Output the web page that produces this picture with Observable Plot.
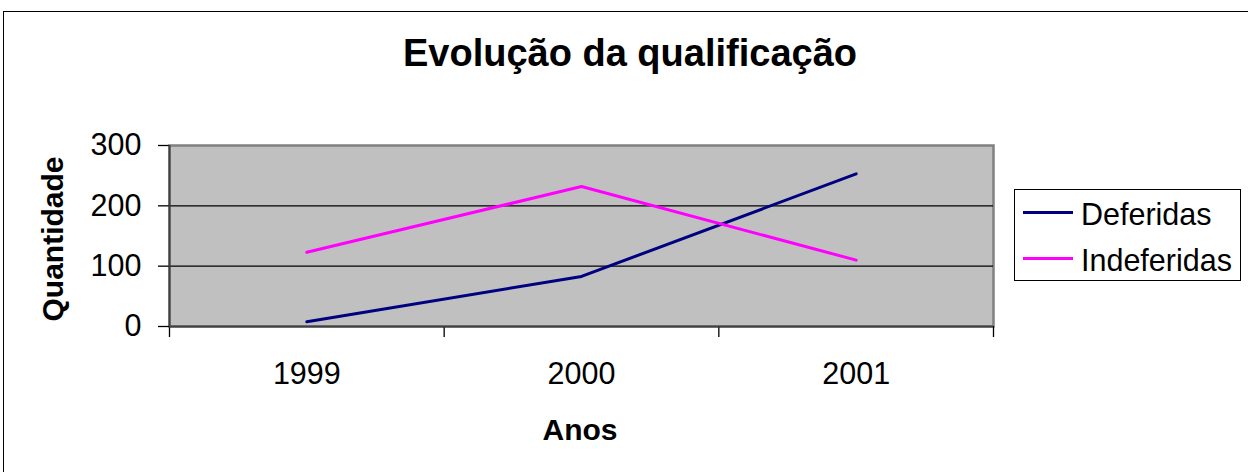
<!DOCTYPE html>
<html>
<head>
<meta charset="utf-8">
<script src="https://cdn.jsdelivr.net/npm/d3@7"></script>
<script src="https://cdn.jsdelivr.net/npm/@observablehq/plot@0.6"></script>
<style>
  html, body { margin: 0; padding: 0; background: #fff; overflow: hidden; }
  #wrap { position: relative; width: 1248px; height: 472px; overflow: hidden; font-family: "Liberation Sans", Arial, sans-serif; color: #000; }
  #border { position: absolute; left: 3px; top: 11px; width: 1400px; height: 600px; border: 1px solid #000; }
  #chart { position: absolute; left: 0; top: 0; }
  .t { position: absolute; line-height: 1; white-space: nowrap; }
  #title { left: 0; width: 1260px; text-align: center; top: 33.8px; font-size: 38px; font-weight: bold; }
  #xlab { left: 380px; width: 400px; text-align: center; top: 414.6px; font-size: 30px; font-weight: bold; }
  #ylab { left: -97.4px; width: 300px; height: 30px; text-align: center; top: 223.5px; font-size: 30px; font-weight: bold; transform: rotate(-90deg); }
  #legend { position: absolute; left: 1014px; top: 189px; width: 227px; height: 92px; border: 1.5px solid #000; background: #fff; box-sizing: border-box; }
  .sw { position: absolute; left: 8px; width: 50px; height: 3px; }
  .lt { position: absolute; left: 66px; font-size: 30.5px; line-height: 1; white-space: nowrap; }
</style>
</head>
<body>
<div id="wrap">
  <div id="border"></div>
  <div id="chart"></div>
  <div id="title" class="t"></div>
  <div id="xlab" class="t"></div>
  <div id="ylab" class="t"></div>
  <div id="legend"></div>
</div>
<script>
// ---- data ----
const chartTitle = "Evolução da qualificação";
const xTitle = "Anos";
const yTitle = "Quantidade";
const years = [1999, 2000, 2001];
const seriesNames = ["Deferidas", "Indeferidas"];
const deferidas = [8, 83, 253];
const indeferidas = [123, 232, 110];
const seriesColors = ["#000080", "#ff00ff"];
const yTicks = [0, 100, 200, 300];
const yGrid = [100, 200];

// ---- build table ----
const seriesValues = [deferidas, indeferidas];
const data = [];
seriesNames.forEach((name, s) => {
  years.forEach((yr, i) => data.push({ano: yr, serie: name, valor: seriesValues[s][i]}));
});
const bounds = years.map(y => y - 0.5).concat([years[years.length - 1] + 0.5]);

const chart = Plot.plot({
  width: 1248,
  height: 472,
  marginLeft: 169,
  marginRight: 255,
  marginTop: 145,
  marginBottom: 146,
  style: {fontFamily: '"Liberation Sans", Arial, sans-serif', fontSize: "30.5px", color: "#000", background: "transparent", overflow: "visible"},
  x: {type: "linear", domain: [bounds[0], bounds[bounds.length - 1]]},
  y: {domain: [yTicks[0], yTicks[yTicks.length - 1]]},
  color: {domain: seriesNames, range: seriesColors},
  marks: [
    Plot.frame({fill: "#c0c0c0", stroke: "#808080", strokeWidth: 2.5}),
    Plot.gridY(yGrid, {stroke: "#000", strokeOpacity: 1, strokeWidth: 1.3}),
    Plot.axisY(yTicks, {tickSize: 11, tickPadding: 17, label: null, stroke: "#000", strokeWidth: 1.3}),
    Plot.axisX(bounds, {tickSize: 11, tickFormat: () => "", label: null, stroke: "#000", strokeWidth: 1.3}),
    Plot.axisX(years, {tickSize: 0, tickPadding: 36, tickFormat: d => String(d), label: null}),
    Plot.ruleX([bounds[0]], {stroke: "#404040", strokeWidth: 2}),
    Plot.ruleY([yTicks[0]], {stroke: "#404040", strokeWidth: 2}),
    Plot.line(data, {x: "ano", y: "valor", z: "serie", stroke: "serie", strokeWidth: 3})
  ]
});
document.getElementById("chart").appendChild(chart);

document.getElementById("title").textContent = chartTitle;
document.getElementById("xlab").textContent = xTitle;
document.getElementById("ylab").textContent = yTitle;

const legend = document.getElementById("legend");
const swTops = [21, 67];
const txtTops = [8.7, 54.7];
seriesNames.forEach((name, i) => {
  const sw = document.createElement("div");
  sw.className = "sw";
  sw.style.top = swTops[i] + "px";
  sw.style.background = seriesColors[i];
  legend.appendChild(sw);
  const lt = document.createElement("div");
  lt.className = "lt";
  lt.style.top = txtTops[i] + "px";
  lt.textContent = name;
  legend.appendChild(lt);
});
</script>
</body>
</html>
